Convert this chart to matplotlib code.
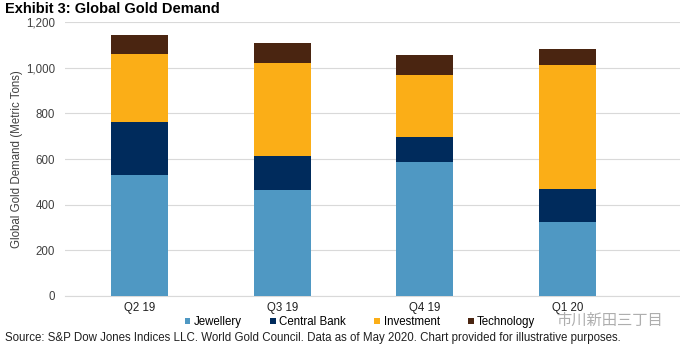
import matplotlib
matplotlib.use("Agg")
import matplotlib.pyplot as plt
import numpy as np

OUT_PATH = "out.png"

QUARTERS = ["Q2 19", "Q3 19", "Q4 19", "Q1 20"]
SERIES = ["Jewellery", "Central Bank", "Investment", "Technology"]
JEWELLERY = [528, 466, 588, 322]
CENTRAL_BANK = [235, 148, 110, 147]
INVESTMENT = [296, 408, 272, 542]
TECHNOLOGY = [83, 85, 84, 72]
COLORS = ["#4F98C3", "#002B5C", "#FBAE17", "#4A2511"]

plt.rcParams["font.family"] = ["Liberation Sans", "DejaVu Sans"]

fig = plt.figure(figsize=(6.8, 3.5), dpi=100)
ax = fig.add_axes([65 / 680, 1 - 296 / 350, 615 / 680, 274 / 350])

x = np.arange(len(QUARTERS))
bottom = np.zeros(len(QUARTERS))
for name, vals, color in zip(SERIES, [JEWELLERY, CENTRAL_BANK, INVESTMENT, TECHNOLOGY], COLORS):
    ax.bar(x, vals, width=0.4, bottom=bottom, color=color, label=name, zorder=3)
    bottom += np.array(vals)

ax.set_xlim(-0.521, 3.787)
ax.set_ylim(0, 1200)
ax.set_yticks(range(0, 1201, 200))
ax.set_yticklabels([f"{v:,}" for v in range(0, 1201, 200)], fontsize=8.3, color="#404040")
ax.set_xticks(x)
ax.set_xticklabels(QUARTERS, fontsize=8.3, color="#202020")
ax.tick_params(length=0, pad=4)
ax.tick_params(axis="y", pad=7)
ax.grid(axis="y", color="#d9d9d9", linewidth=0.8, zorder=0)
for s in ["top", "right", "left"]:
    ax.spines[s].set_visible(False)
ax.spines["bottom"].set_color("#d9d9d9")
ax.set_ylabel("Global Gold Demand (Metric Tons)", fontsize=8.3, color="#404040", labelpad=2)

fig.text(5 / 680, 1 - 9 / 350, "Exhibit 3: Global Gold Demand", fontsize=10.5,
         fontweight="bold", va="center", ha="left")

handles, labels = ax.get_legend_handles_labels()
fig.legend(handles, labels, loc="center", bbox_to_anchor=(360 / 680, 1 - 322 / 350), ncol=4,
           frameon=False, fontsize=8.3, handlelength=0.5, handleheight=0.5, handletextpad=0.3,
           columnspacing=2.45)

fig.text(5 / 680, 1 - 338 / 350,
         "Source: S&P Dow Jones Indices LLC. World Gold Council. Data as of May 2020. "
         "Chart provided for illustrative purposes.",
         fontsize=8.3, va="center", ha="left", color="#202020")

fig.text(556 / 680, 1 - 320 / 350, "市川新田三丁目", fontsize=11, color="#9a9a9a", alpha=0.8,
         va="center", ha="left", family=["Noto Sans CJK JP", "DejaVu Sans"])

fig.savefig(OUT_PATH, dpi=100)
